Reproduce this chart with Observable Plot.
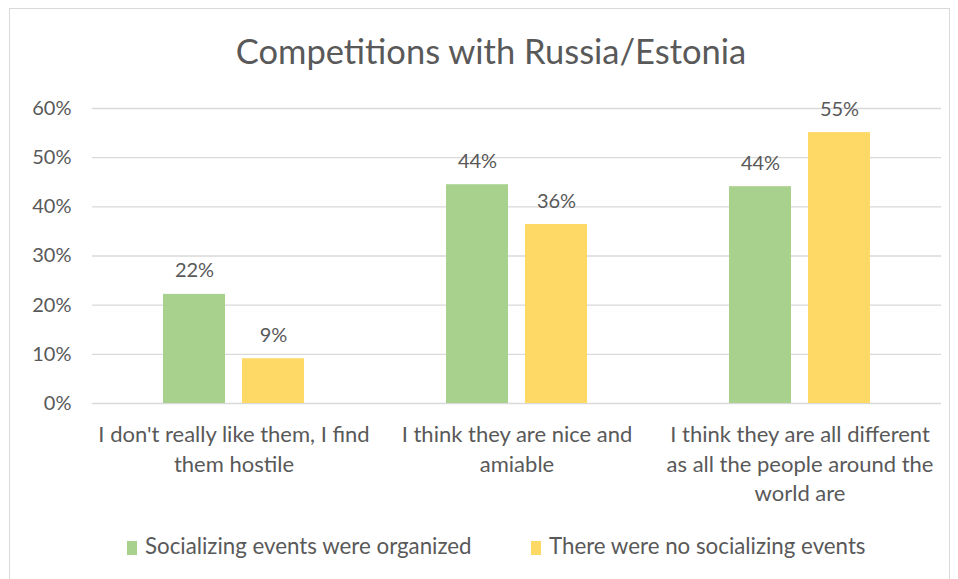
<!DOCTYPE html>
<html>
<head>
<meta charset="utf-8">
<script src="https://cdn.jsdelivr.net/npm/d3@7"></script>
<script src="https://cdn.jsdelivr.net/npm/@observablehq/plot@0.6"></script>
<style>
  html, body { margin: 0; padding: 0; background: #fff; }
  #chart { position: relative; width: 958px; height: 579px; overflow: hidden; background: #fff; font-family: Lato, sans-serif; color: #595959; }
  #frame { position: absolute; left: 9px; top: 8px; width: 941px; height: 620px; border: 1px solid #d9d9d9; box-sizing: border-box; }
  #title { position: absolute; left: 0; width: 982px; top: 30px; text-align: center; font-size: 34.5px; line-height: 42px; }
  #plot { position: absolute; left: 0; top: 80px; }
  #legend { position: absolute; top: 534px; left: 0; width: 958px; height: 24px; font-size: 22.3px; line-height: 24px; }
  .item { position: absolute; top: 0; white-space: nowrap; }
  .sw { display: inline-block; width: 10px; height: 14px; vertical-align: -1px; margin-right: 8px; }
</style>
</head>
<body>
<div id="chart">
  <div id="frame"></div>
  <div id="title"></div>
  <div id="plot"></div>
  <div id="legend"></div>
</div>
<script>
const title = "Competitions with Russia/Estonia";
const categories = [
  "I don't really like them, I find\nthem hostile",
  "I think they are nice and\namiable",
  "I think they are all different\nas all the people around the\nworld are"
];
const series = ["Socializing events were organized", "There were no socializing events"];
const socializingValues = [0.222, 0.445, 0.441];
const noSocializingValues = [0.091, 0.364, 0.551];
const valueLabels = [["22%", "44%", "44%"], ["9%", "36%", "55%"]];
const yTicks = [0, 0.1, 0.2, 0.3, 0.4, 0.5, 0.6];
const colors = ["#a9d18e", "#ffd966"];

const rows = [];
[socializingValues, noSocializingValues].forEach((vals, si) => {
  vals.forEach((v, ci) => rows.push({category: categories[ci], series: series[si], value: v, label: valueLabels[si][ci]}));
});

document.getElementById("title").textContent = title;

const plot = Plot.plot({
  width: 958,
  height: 440,
  marginLeft: 91,
  marginRight: 16,
  marginTop: 28,
  marginBottom: 117,
  style: {fontFamily: "Lato, sans-serif", color: "#595959", background: "transparent"},
  fx: {domain: categories, padding: 0},
  x: {domain: series, paddingInner: 0.2125, paddingOuter: 0.88, axis: null},
  y: {domain: [0, 0.6]},
  color: {domain: series, range: colors},
  marks: [
    Plot.gridY(yTicks, {stroke: "#d9d9d9", strokeOpacity: 1, strokeWidth: 1.3}),
    Plot.axisY(yTicks, {tickSize: 0, tickPadding: 21, tickFormat: d3.format(".0%"), fontSize: 20, fill: "#595959", label: null}),
    Plot.axisFx({anchor: "bottom", tickSize: 0, tickPadding: 18, fontSize: 22, lineHeight: 1.33, fill: "#595959", label: null}),
    Plot.barY(rows, {fx: "category", x: "series", y: "value", fill: "series"}),
    Plot.text(rows, {fx: "category", x: "series", y: "value", text: "label", dy: -17, lineAnchor: "bottom", fontSize: 20, fill: "#595959"})
  ]
});
document.getElementById("plot").appendChild(plot);

const legend = document.getElementById("legend");
const legendX = [127, 531];
series.forEach((s, i) => {
  const item = document.createElement("div");
  item.className = "item";
  item.style.left = legendX[i] + "px";
  const sw = document.createElement("span");
  sw.className = "sw";
  sw.style.background = colors[i];
  item.appendChild(sw);
  item.appendChild(document.createTextNode(s));
  legend.appendChild(item);
});
</script>
</body>
</html>
